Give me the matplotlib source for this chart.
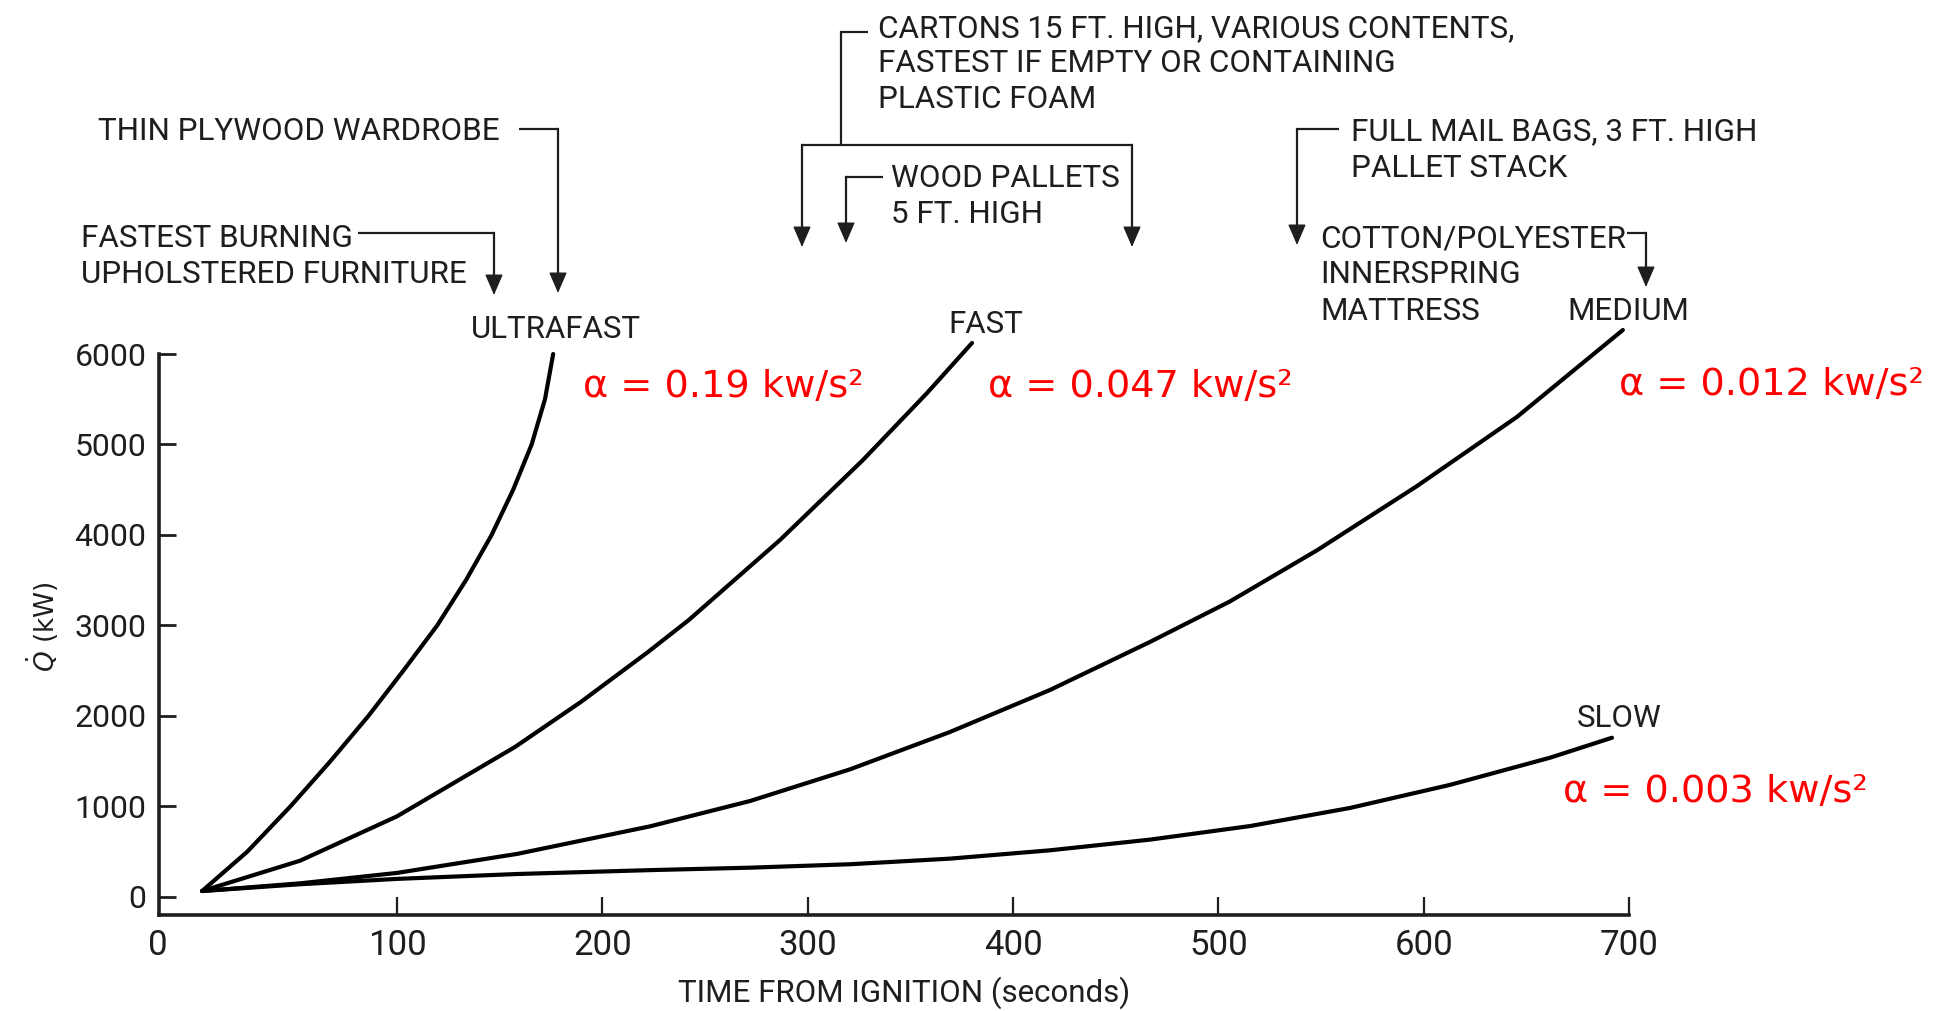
import matplotlib
matplotlib.use("Agg")
import matplotlib.pyplot as plt
from matplotlib.lines import Line2D
from matplotlib.transforms import ScaledTranslation

# ---------------- data ----------------
ultrafast_t = [5, 27, 48, 67.5, 86, 103, 119.5, 133.5, 146, 156.5, 165.5, 172, 176]
ultrafast_q = [65, 500, 1000, 1500, 2000, 2500, 3000, 3500, 4000, 4500, 5000, 5500, 6000]

fast_t = [5, 52.7, 99.9, 157.4, 189.5, 222.2, 242.1, 286.5, 326.9, 358.1, 380]
fast_q = [65, 400, 890, 1657, 2155, 2707, 3061, 3945, 4829, 5569, 6122]

medium_t = [5, 52.7, 99.9, 158.4, 223.2, 271.9, 320.6, 369.3, 418, 466.7, 505.6, 548, 596.7, 645.4, 697]
medium_q = [65, 150, 265, 475, 780, 1060, 1410, 1823, 2287, 2818, 3265, 3830, 4540, 5304, 6265]

slow_t = [5, 52.7, 99.9, 158.4, 223.2, 271.9, 320.6, 369.3, 418, 466.7, 515.4, 564.1, 612.8, 661.5, 691.7]
slow_q = [65, 140, 199, 253, 296, 323, 361, 423, 515, 633, 783, 983, 1238, 1538, 1759]

x_ticks = [0, 100, 200, 300, 400, 500, 600, 700]
y_ticks = [0, 1000, 2000, 3000, 4000, 5000, 6000]

alpha_labels = ["α = 0.19 kw/s²", "α = 0.047 kw/s²", "α = 0.012 kw/s²", "α = 0.003 kw/s²"]
curve_names = ["ULTRAFAST", "FAST", "MEDIUM", "SLOW"]

# ---------------- figure ----------------
W, H = 1937, 1011
fig = plt.figure(figsize=(W / 100, H / 100), dpi=100)
ax = fig.add_axes([159 / W, 1 - 915 / H, 1470 / W, 561 / H])

INK = "#1e1e1e"
BLACK_FONT = ["Roboto", "DejaVu Sans"]

for t, q in [(ultrafast_t, ultrafast_q), (fast_t, fast_q),
             (medium_t, medium_q), (slow_t, slow_q)]:
    ax.plot(t, q, color="black", lw=3.0, clip_on=False,
            solid_capstyle="round", solid_joinstyle="round")

ax.set_xlim(-16, 700)
ax.set_ylim(-200, 6000)
for s in ["top", "right"]:
    ax.spines[s].set_visible(False)
for s in ["left", "bottom"]:
    ax.spines[s].set_linewidth(2.6)
    ax.spines[s].set_color(INK)

ax.set_xticks(x_ticks)
ax.set_yticks(y_ticks)
ax.set_xticklabels([str(v) for v in x_ticks], fontfamily=BLACK_FONT, fontsize=25, color=INK)
ax.set_yticklabels([str(v) for v in y_ticks], fontfamily=BLACK_FONT, fontsize=23, color=INK)
ax.tick_params(axis="y", direction="in", length=12, width=2.0, pad=9, colors=INK)
ax.tick_params(axis="x", direction="in", length=13, width=1.6, pad=10, colors=INK)
first_tick = ax.xaxis.get_major_ticks()[0]
first_tick.tick1line.set_visible(False)
first_tick.label1.set_transform(first_tick.label1.get_transform()
                                + ScaledTranslation(-0.34, 0, fig.dpi_scale_trans))


def px(x, y):
    return x / W, 1 - y / H


# axis titles
fig.text(*px(904, 1002), "TIME FROM IGNITION (seconds)", ha="center", va="baseline",
         fontsize=22.5, fontfamily=BLACK_FONT, color=INK)
fig.text(*px(43, 627), r"$\dot{Q}$ (kW)", rotation=90, ha="center", va="center",
         fontsize=19, color=INK)

# curve names
name_pos = [(471, 338), (948, 333), (1567, 320), (1577, 727)]
for name, (x, y) in zip(curve_names, name_pos):
    fig.text(*px(x, y), name, ha="left", va="baseline", fontsize=22.5,
             fontfamily=BLACK_FONT, color=INK)

# alpha labels (red)
alpha_pos = [(583, 397), (988, 397), (1619, 395), (1563, 802)]
for lab, (x, y) in zip(alpha_labels, alpha_pos):
    fig.text(*px(x, y), lab, ha="left", va="baseline", fontsize=27.5,
             fontfamily="DejaVu Sans", color="#ff0000")

# annotation texts
notes = [
    (98, 140, "THIN PLYWOOD WARDROBE"),
    (81, 247, "FASTEST BURNING"),
    (81, 283, "UPHOLSTERED FURNITURE"),
    (878, 37, "CARTONS 15 FT. HIGH, VARIOUS CONTENTS,"),
    (878, 72, "FASTEST IF EMPTY OR CONTAINING"),
    (878, 108, "PLASTIC FOAM"),
    (891, 187, "WOOD PALLETS"),
    (891, 223, "5 FT. HIGH"),
    (1351, 140, "FULL MAIL BAGS, 3 FT. HIGH"),
    (1351, 177, "PALLET STACK"),
    (1320, 247, "COTTON/POLYESTER"),
    (1320, 283, "INNERSPRING"),
    (1320, 320, "MATTRESS"),
]
for x, y, s in notes:
    fig.text(*px(x, y), s, ha="left", va="baseline", fontsize=22.6,
             fontfamily=BLACK_FONT, color=INK)


def seg(points):
    xs = [p[0] / W for p in points]
    ys = [1 - p[1] / H for p in points]
    fig.add_artist(Line2D(xs, ys, transform=fig.transFigure, color=INK,
                          lw=1.6, solid_joinstyle="miter", solid_capstyle="butt"))


def arrow(x, y0, y1):
    fig.add_artist(Line2D([x / W, x / W], [1 - y0 / H, 1 - (y1 - 12) / H],
                          transform=fig.transFigure, color=INK, lw=1.6))
    ax.annotate("", xy=(x, H - y1), xytext=(x, H - (y1 - 20)),
                xycoords="figure pixels", textcoords="figure pixels",
                arrowprops=dict(arrowstyle="-|>,head_length=0.65,head_width=0.28",
                                mutation_scale=20, color=INK, lw=1.0,
                                shrinkA=0, shrinkB=0))


# connectors
seg([(358, 233), (494, 233)]); arrow(494, 233, 295)
seg([(519, 129), (558, 129)]); arrow(558, 129, 293)
seg([(868, 32), (841, 32), (841, 145)])
seg([(802, 145), (1132, 145)])
arrow(802, 145, 247); arrow(1132, 145, 247)
seg([(883, 177), (846, 177)]); arrow(846, 177, 243)
seg([(1339, 129), (1297, 129)]); arrow(1297, 129, 245)
seg([(1627, 233), (1646, 233)]); arrow(1646, 233, 287)

fig.savefig("out.png", dpi=100, facecolor="white")
